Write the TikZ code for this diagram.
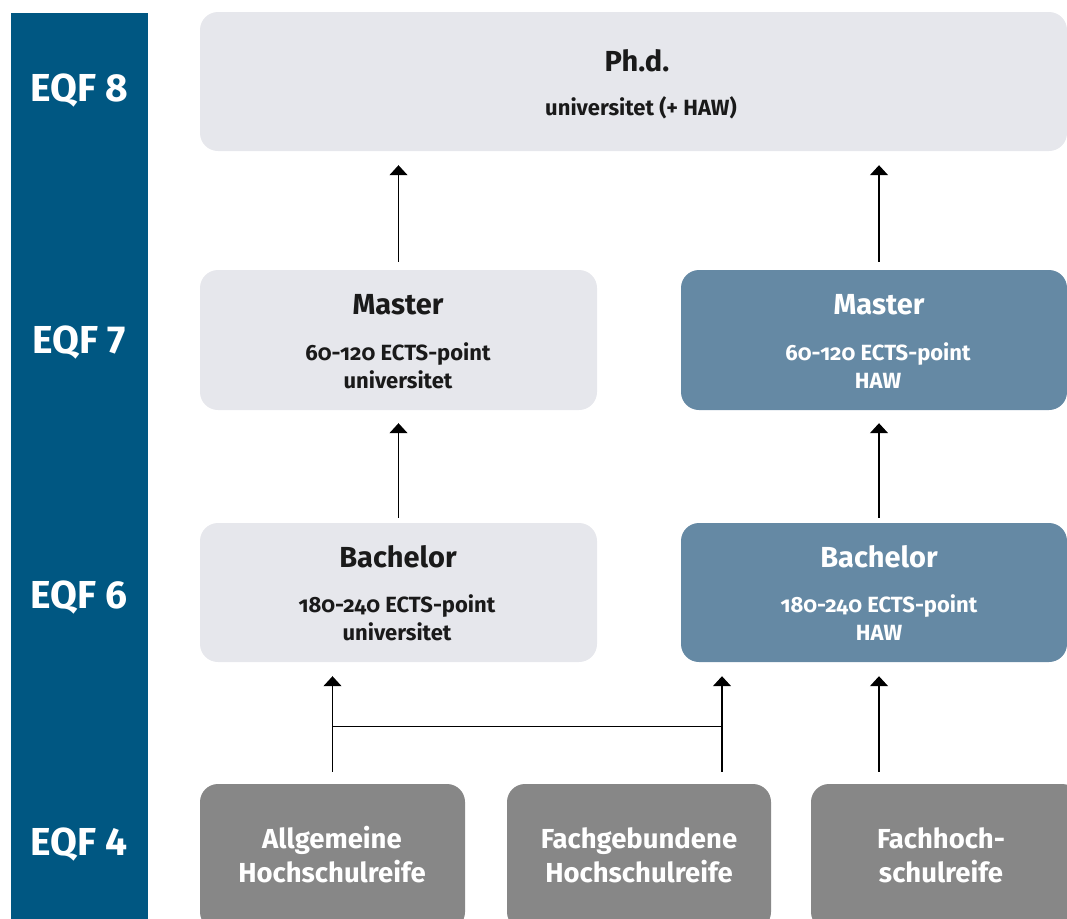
\documentclass[tikz,border=0pt]{standalone}
\usepackage{fontspec}
\setmainfont{Fira Sans}[Numbers=OldStyle]
\newfontfamily\liningfont{Fira Sans}[Numbers=Lining]
\usetikzlibrary{arrows.meta,calc}
\definecolor{barblue}{HTML}{005782}
\definecolor{lightbox}{HTML}{E6E7EC}
\definecolor{haw}{HTML}{6589A4}
\definecolor{darkbox}{HTML}{878787}
\definecolor{txt}{HTML}{1A1A1A}
\tikzset{
  box/.style={rounded corners=18pt, inner sep=0pt},
  uni/.style={box, fill=lightbox},
  hawbox/.style={box, fill=haw},
  eqfbox/.style={box, fill=darkbox},
  title/.style={font=\fontsize{29}{32}\selectfont\bfseries, text=txt, inner sep=0pt},
  sub/.style={font=\fontsize{22}{28}\selectfont\bfseries, text=txt, align=center, inner sep=0pt},
  eqftxt/.style={font=\fontsize{27.5}{34}\selectfont\bfseries, text=white, align=center, inner sep=0pt},
  lvl/.style={font=\liningfont\fontsize{39}{42}\selectfont\bfseries, text=white, inner sep=0pt},
  arr/.style={line width=1.3pt, -{Triangle[width=18pt,length=10pt]}},
  ln/.style={line width=1.3pt}
}
\begin{document}
\begin{tikzpicture}[x=1pt,y=-1pt]
\useasboundingbox (0,0) rectangle (1067,918);
\clip (0,0) rectangle (1067,918);
% level bar
\fill[barblue] (11,13) rectangle (148,930);
\node[lvl] (l8) at (79,91) {EQF 8};
\node[lvl] (l7) at (79,343) {EQF 7};
\node[lvl] (l6) at (79,598) {EQF 6};
\node[lvl] (l4) at (79,845) {EQF 4};
% boxes
\node[uni, minimum width=867pt, minimum height=139pt] (phd) at (633.5,81.5) {};
\node[uni, minimum width=397pt, minimum height=140pt] (mu) at (398.5,340) {};
\node[hawbox, minimum width=386pt, minimum height=140pt] (mh) at (874,340) {};
\node[uni, minimum width=397pt, minimum height=139pt] (bu) at (398.5,592.5) {};
\node[hawbox, minimum width=386pt, minimum height=139pt] (bh) at (874,592.5) {};
\node[eqfbox, minimum width=265pt, minimum height=146pt] (ah) at (332.5,857) {};
\node[eqfbox, minimum width=264pt, minimum height=146pt] (fh) at (639,857) {};
\node[eqfbox, minimum width=269pt, minimum height=146pt] (fhs) at (945.5,857) {};
% texts
\node[title] (phdt) at (637,61) {Ph.d.};
\node[sub] (phds) at (641,108) {universitet (+ HAW)};
\node[title] (mut) at (398,305) {Master};
\node[sub] (mus) at (398,366) {60-120 ECTS-point\\universitet};
\node[title, text=white] (mht) at (879,305) {Master};
\node[sub, text=white] (mhs) at (878,366) {60-120 ECTS-point\\HAW};
\node[title] (but) at (398,557) {Bachelor};
\node[sub] (bus) at (397,618) {180-240 ECTS-point\\universitet};
\node[title, text=white] (bht) at (879,557) {Bachelor};
\node[sub, text=white] (bhs) at (879,618) {180-240 ECTS-point\\HAW};
\node[eqftxt] (aht) at (332,855) {Allgemeine\\Hochschulreife};
\node[eqftxt] (fht) at (639,855) {Fachgebundene\\Hochschulreife};
\node[eqftxt] (fhst) at (941,855) {Fachhoch-\\schulreife};
% arrows
\draw[arr, shorten <=8pt, shorten >=14pt] (mu.north) -- (mu.north |- phd.south);
\draw[arr, shorten <=8pt, shorten >=14pt] ([xshift=5pt]mh.north) -- ([xshift=5pt]mh.north |- phd.south);
\draw[arr, shorten <=5pt, shorten >=13pt] (bu.north) -- (mu.south);
\draw[arr, shorten <=5pt, shorten >=13pt] ([xshift=5pt]bh.north) -- ([xshift=5pt]bh.north |- mh.south);
\coordinate (jl) at ($(ah.north)+(0,-57)$);
\coordinate (jr) at ($(fh.north)+(83,-57)$);
\draw[arr, shorten <=12pt, shorten >=14pt] (ah.north) -- (ah.north |- bu.south);
\draw[arr, shorten <=12pt, shorten >=14pt] ([xshift=83pt]fh.north) -- ([xshift=83pt]fh.north |- bh.south);
\draw[ln] (jl) -- (jr);
\draw[arr, shorten <=12pt, shorten >=14pt] ([xshift=-66.5pt]fhs.north) -- ([xshift=5pt]bh.south);
\end{tikzpicture}
\end{document}
